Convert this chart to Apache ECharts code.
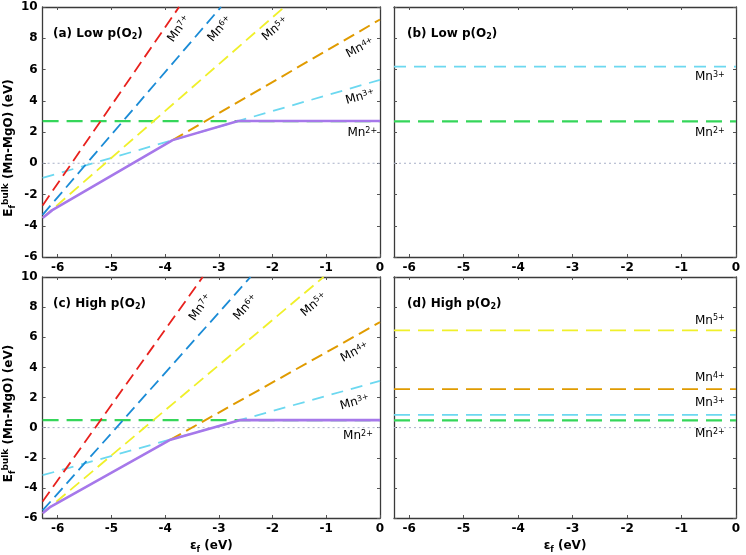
<!DOCTYPE html>
<html><head><meta charset="utf-8">
<script src="https://cdn.jsdelivr.net/npm/echarts@6/dist/echarts.min.js"></script>
<style>html,body{margin:0;padding:0;background:#fff}#c{width:746px;height:555px}</style>
</head><body><div id="c"></div>
<script>
// ---- axis ticks ----
const xTicks = [-6, -5, -4, -3, -2, -1, 0];
const xMin = -6.28, xMax = 0;
const yMin = -6, yMax = 10, yStep = 2;

// ---- panel titles ----
const panelTitles = ['(a) Low p(O{sub|2})', '(b) Low p(O{sub|2})', '(c) High p(O{sub|2})', '(d) High p(O{sub|2})'];

// ---- panel (a): low p(O2), E vs eps_f ----
const aMn7 = [[-6.28, -2.7], [-3.74, 10]];
const aMn6 = [[-6.28, -3.3], [-2.96, 10]];
const aMn5 = [[-6.28, -3.5], [-1.78, 10]];
const aMn4 = [[-3.86, 1.48], [0, 9.2]];
const aMn3 = [[-6.28, -0.94], [0, 5.34]];
const aMn2 = [[-6.28, 2.7], [0, 2.7]];
const aMin = [[-6.28, -3.5], [-6.1, -3.0], [-3.86, 1.48], [-2.64, 2.7], [0, 2.7]];
const aZero = [[-6.28, 0], [0, 0]];

// ---- panel (b): low p(O2) ----
const bMn3 = [[-6.28, 6.18], [0, 6.18]];
const bMn2 = [[-6.28, 2.68], [0, 2.68]];
const bZero = [[-6.28, 0], [0, 0]];

// ---- panel (c): high p(O2) ----
const cMn7 = [[-6.28, -4.9], [-3.3, 10]];
const cMn6 = [[-6.28, -5.5], [-2.41, 10]];
const cMn5 = [[-6.28, -5.69], [-1.05, 10]];
const cMn4 = [[-3.9, -0.8], [0, 7.0]];
const cMn3 = [[-6.28, -3.16], [0, 3.1]];
const cMn2 = [[-6.28, 0.5], [0, 0.5]];
const cMin = [[-6.28, -5.69], [-6.15, -5.3], [-3.9, -0.8], [-2.6, 0.5], [0, 0.5]];
const cZero = [[-6.28, 0], [0, 0]];

// ---- panel (d): high p(O2) ----
const dMn5 = [[-6.28, 6.46], [0, 6.46]];
const dMn4 = [[-6.28, 2.56], [0, 2.56]];
const dMn3 = [[-6.28, 0.85], [0, 0.85]];
const dMn2 = [[-6.28, 0.48], [0, 0.48]];
const dZero = [[-6.28, 0], [0, 0]];

// ---- line labels: [charge, x, y, angle] ----
const aLabels = [['7+', -3.74, 8.6, 55], ['6+', -2.98, 8.6, 49], ['5+', -1.95, 8.6, 41], ['4+', -0.37, 7.38, 28], ['3+', -0.37, 4.24, 16], ['2+', -0.33, 1.94, 0]];
const bLabels = [['3+', -0.48, 5.52, 0], ['2+', -0.48, 1.94, 0]];
const cLabels = [['7+', -3.34, 7.98, 55], ['6+', -2.5, 7.98, 49], ['5+', -1.23, 8.17, 41], ['4+', -0.47, 5.01, 28], ['3+', -0.47, 1.68, 16], ['2+', -0.41, -0.56, 0]];
const dLabels = [['5+', -0.48, 7.12, 0], ['4+', -0.48, 3.28, 0], ['3+', -0.48, 1.62, 0], ['2+', -0.48, -0.43, 0]];

const COL = {
  mn7: '#e8211d', mn6: '#1a8bd6', mn5: '#f0f02a', mn4: '#e09b00',
  mn3: '#6cd8f0', mn2: '#35d65a', min: '#a678ea', zero: '#a8b0c8'
};
const FONT = 'DejaVu Sans';

const grids = [
  { left: 40, top: 7, width: 340, height: 250 },
  { left: 394, top: 7, width: 342, height: 250 },
  { left: 40, top: 277, width: 340, height: 250 },
  { left: 394, top: 277, width: 342, height: 250 }
];

const axisLineStyle = { color: '#3a3a3a', width: 1.3 };
const tickFont = { fontFamily: FONT, fontSize: 12, fontWeight: 'bold', color: '#000' };
const xAxes = [], yAxes = [];
grids.forEach((g, i) => {
  xAxes.push({
    gridIndex: i, type: 'value', min: xMin, max: xMax, position: 'bottom',
    name: i >= 2 ? 'ε{sub|f} (eV)' : '', nameLocation: 'middle', nameGap: 20,
    nameTextStyle: { fontFamily: FONT, fontSize: 12, fontWeight: 'bold', color: '#000',
      rich: { sub: { fontSize: 8, fontWeight: 'bold', verticalAlign: 'bottom', padding: [8, 0, 0, 0] } } },
    axisLine: { onZero: false, lineStyle: axisLineStyle },
    axisTick: { inside: true, length: 3, customValues: xTicks, lineStyle: { color: '#555' } },
    axisLabel: Object.assign({ show: true, customValues: xTicks, margin: 5 }, tickFont),
    splitLine: { show: false }
  });
  xAxes.push({
    gridIndex: i, type: 'value', min: xMin, max: xMax, position: 'top',
    axisLine: { onZero: false, lineStyle: axisLineStyle },
    axisTick: { inside: true, length: 3, customValues: xTicks, lineStyle: { color: '#555' } },
    axisLabel: { show: false }, splitLine: { show: false }
  });
  const left = (i % 2 === 0);
  yAxes.push({
    gridIndex: i, type: 'value', min: yMin, max: yMax, interval: yStep, position: 'left',
    name: left ? 'E{sub|f}{sup|bulk} (Mn-MgO) (eV)' : '', nameLocation: 'middle', nameGap: 23, nameRotate: 90,
    nameTextStyle: { fontFamily: FONT, fontSize: 12, fontWeight: 'bold', color: '#000', padding: [0, 32, 0, 0],
      rich: { sub: { fontSize: 8, fontWeight: 'bold', verticalAlign: 'bottom', padding: [8, 0, 0, 0] },
              sup: { fontSize: 9, fontWeight: 'bold', verticalAlign: 'top' } } },
    axisLine: { onZero: false, lineStyle: axisLineStyle },
    axisTick: { inside: true, length: 3, lineStyle: { color: '#555' } },
    axisLabel: Object.assign({ show: left, margin: 5 }, tickFont),
    splitLine: { show: false }
  });
  yAxes.push({
    gridIndex: i, type: 'value', min: yMin, max: yMax, interval: yStep, position: 'right',
    axisLine: { onZero: false, lineStyle: axisLineStyle },
    axisTick: { inside: true, length: 3, lineStyle: { color: '#555' } },
    axisLabel: { show: false }, splitLine: { show: false }
  });
});

function line(gi, data, color, dash, width, z) {
  return {
    type: 'line', xAxisIndex: gi * 2, yAxisIndex: gi * 2, data: data,
    symbol: 'none', silent: true, animation: false, z: z || 2,
    lineStyle: { color: color, width: width, type: dash }
  };
}
function labels(gi, arr) {
  return {
    type: 'scatter', xAxisIndex: gi * 2, yAxisIndex: gi * 2, symbolSize: 0, silent: true, animation: false, z: 5,
    itemStyle: { opacity: 1 },
    data: arr.map(l => ({ value: [l[1], l[2]], name: l[0], label: { rotate: l[3] } })),
    label: {
      show: true, position: 'inside', fontFamily: FONT, fontSize: 12, color: '#000', opacity: 1,
      textBorderWidth: 0,
      formatter: p => 'Mn{sup|' + p.name + '}',
      rich: { sup: { fontSize: 8, color: '#000', verticalAlign: 'top' } }
    }
  };
}

const D1 = [12, 6], D2 = [16, 8], D3 = [12, 8];
const series = [
  // (a)
  line(0, aZero, COL.zero, [2, 3], 1),
  line(0, aMn2, COL.mn2, D2, 2.2),
  line(0, aMn3, COL.mn3, D3, 1.8),
  line(0, aMn4, COL.mn4, D1, 2),
  line(0, aMn5, COL.mn5, D1, 1.8),
  line(0, aMn6, COL.mn6, D1, 1.8),
  line(0, aMn7, COL.mn7, D1, 1.8),
  line(0, aMin, COL.min, 'solid', 2.6, 4),
  labels(0, aLabels),
  // (b)
  line(1, bZero, COL.zero, [2, 3], 1),
  line(1, bMn3, COL.mn3, D3, 1.8),
  line(1, bMn2, COL.mn2, D2, 2.2),
  labels(1, bLabels),
  // (c)
  line(2, cZero, COL.zero, [2, 3], 1),
  line(2, cMn2, COL.mn2, D2, 2.2),
  line(2, cMn3, COL.mn3, D3, 1.8),
  line(2, cMn4, COL.mn4, D1, 2),
  line(2, cMn5, COL.mn5, D1, 1.8),
  line(2, cMn6, COL.mn6, D1, 1.8),
  line(2, cMn7, COL.mn7, D1, 1.8),
  line(2, cMin, COL.min, 'solid', 2.6, 4),
  labels(2, cLabels),
  // (d)
  line(3, dZero, COL.zero, [2, 3], 1),
  line(3, dMn5, COL.mn5, D2, 1.8),
  line(3, dMn4, COL.mn4, D2, 1.8),
  line(3, dMn3, COL.mn3, D2, 1.8),
  line(3, dMn2, COL.mn2, D2, 2.2),
  labels(3, dLabels)
];

const titles = panelTitles.map((t, i) => ({
  text: t, left: grids[i].left + 13, top: grids[i].top + 20, padding: 0,
  textStyle: { fontFamily: FONT, fontSize: 12, fontWeight: 'bold', color: '#000',
    rich: { sub: { fontSize: 8, fontWeight: 'bold', color: '#000', verticalAlign: 'bottom', padding: [6, 0, 0, 0] } } }
}));

const chart = echarts.init(document.getElementById('c'), null, { renderer: 'canvas' });
chart.setOption({
  animation: false, backgroundColor: '#fff',
  title: titles, grid: grids, xAxis: xAxes, yAxis: yAxes, series: series
});
</script></body></html>
